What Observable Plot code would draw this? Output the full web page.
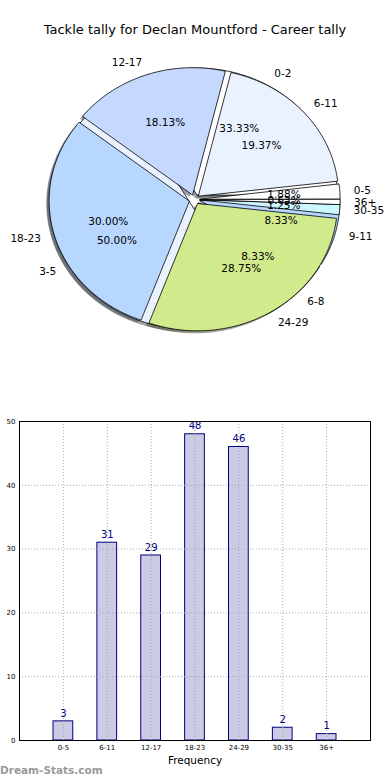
<!DOCTYPE html>
<html><head><meta charset="utf-8">
<script src="https://cdn.jsdelivr.net/npm/d3@7"></script>
<script src="https://cdn.jsdelivr.net/npm/@observablehq/plot@0.6"></script>
<style>
html,body{margin:0;padding:0;background:#fff;}
body{width:390px;height:780px;position:relative;overflow:hidden;font-family:"DejaVu Sans",sans-serif;}
#title{position:absolute;left:0;top:23px;width:390px;text-align:center;font-size:13px;line-height:13px;color:#000;}
#pie{position:absolute;left:0;top:0;}
#bar{position:absolute;left:0;top:400px;}
#wm{position:absolute;left:0;top:765px;font-size:10.5px;line-height:10.5px;font-weight:bold;color:#9a9a9a;}
svg{overflow:visible;}
</style></head><body>
<div id="pie"></div>
<div id="title">Tackle tally for Declan Mountford - Career tally</div>
<div id="bar"></div>
<div id="wm">Dream-Stats.com</div>
<script>
// ---- data ----
const categories = ["0-5","6-11","12-17","18-23","24-29","30-35","36+"];
const tallies = [3,31,29,48,46,2,1];
const percentLabels = ["1.88%","19.37%","18.13%","30.00%","28.75%","1.25%","0.63%"];
const innerCategories = ["0-2","3-5","6-8","9-11"];
const innerTallies = [4,6,1,1];
const innerPercentLabels = ["33.33%","50.00%","8.33%","8.33%"];
const yTicks = [0,10,20,30,40,50];

// ---- styles ----
const wedgeColors = ["#ffffff","#eaf2ff","#c5d9ff","#b7d7ff","#d1ea8b","#cdf7ff","#ffffff"];
const explode = 0.04;
const font = "DejaVu Sans";

function buildWedges(cats, vals, pcts) {
  const total = d3.sum(vals);
  let acc = 0;
  return vals.map((v, i) => {
    const t1 = acc / total * 2 * Math.PI; acc += v;
    const t2 = acc / total * 2 * Math.PI;
    const tm = (t1 + t2) / 2;
    const cx = explode * Math.cos(tm), cy = explode * Math.sin(tm);
    const n = Math.max(2, Math.ceil((t2 - t1) / (Math.PI / 180)));
    const pts = [{x: cx, y: cy}];
    for (let k = 0; k <= n; k++) {
      const t = t1 + (t2 - t1) * k / n;
      pts.push({x: cx + Math.cos(t), y: cy + Math.sin(t)});
    }
    return {
      cat: cats[i], pct: pcts[i], color: wedgeColors[i % wedgeColors.length], pts,
      lx: cx + 1.1 * Math.cos(tm), ly: cy + 1.1 * Math.sin(tm),
      px: cx + 0.6 * Math.cos(tm), py: cy + 0.6 * Math.sin(tm),
      right: Math.cos(tm) > 0
    };
  });
}
const inner = buildWedges(innerCategories, innerTallies, innerPercentLabels);
const outer = buildWedges(categories, tallies, percentLabels);

function shadowColor(c) {
  const r = d3.rgb(c);
  return d3.rgb(r.r * 0.3, r.g * 0.3, r.b * 0.3).formatHex();
}

const pieMarks = [];
for (const w of [...inner, ...outer]) {
  pieMarks.push(Plot.line(w.pts, {x: d => d.x - 0.02, y: d => d.y - 0.02, curve: "linear-closed",
    fill: shadowColor(w.color), fillOpacity: 0.5, stroke: "none"}));
}
for (const w of [...inner, ...outer]) {
  pieMarks.push(Plot.line(w.pts, {x: "x", y: "y", curve: "linear-closed",
    fill: w.color, stroke: "#000", strokeWidth: 0.8}));
}
const allW = [...inner, ...outer];
pieMarks.push(Plot.text(allW.filter(w => w.right), {x: "lx", y: "ly", text: "cat", textAnchor: "start", fontSize: 10.5, fill: "#000"}));
pieMarks.push(Plot.text(allW.filter(w => !w.right), {x: "lx", y: "ly", text: "cat", textAnchor: "end", fontSize: 10.5, fill: "#000"}));
pieMarks.push(Plot.text(allW, {x: "px", y: "py", text: "pct", textAnchor: "middle", fontSize: 10.5, fill: "#000"}));

const rx = 140, ry = 127, pcx = 194, pcy = 199, pw = 390, ph = 400;
const pie = Plot.plot({
  width: pw, height: ph, margin: 0,
  style: {fontFamily: font, background: "transparent", overflow: "visible"},
  x: {domain: [-pcx / rx, (pw - pcx) / rx], axis: null},
  y: {domain: [-(ph - pcy) / ry, pcy / ry], axis: null},
  marks: pieMarks
});
document.getElementById("pie").append(pie);

// ---- bar chart ----
const barData = categories.map((c, i) => ({pos: i + 1, cat: c, v: tallies[i]}));
const halfW = 0.225;
const bar = Plot.plot({
  width: 390, height: 380, marginLeft: 19, marginRight: 20, marginTop: 21, marginBottom: 40,
  style: {fontFamily: font, background: "transparent", overflow: "visible"},
  x: {domain: [0, categories.length + 1]},
  y: {domain: [0, 50]},
  marks: [
    Plot.rectY(barData, {x1: d => d.pos - halfW, x2: d => d.pos + halfW, y1: 0, y2: "v",
      fill: "#cbcbe5", stroke: "#000080", strokeWidth: 1}),
    Plot.gridX(barData.map(d => d.pos), {stroke: "#a8a8a8", strokeOpacity: 1, strokeDasharray: "1,2"}),
    Plot.gridY(yTicks.slice(1, -1), {stroke: "#a8a8a8", strokeOpacity: 1, strokeDasharray: "1,2"}),
    Plot.text(barData, {x: "pos", y: "v", text: d => String(d.v), dy: -8, fontSize: 10, fill: "#000080"}),
    Plot.axisX(barData.map(d => d.pos), {tickFormat: d => categories[d - 1], tickSize: 0, tickPadding: 5, fontSize: 7, label: null}),
    Plot.axisY(yTicks, {tickSize: 0, tickPadding: 4, fontSize: 7, label: null}),
    Plot.text(["Frequency"], {frameAnchor: "bottom", lineAnchor: "middle", dy: 20, fontSize: 10.5, fill: "#000"}),
    Plot.frame({stroke: "#000", strokeWidth: 1})
  ]
});
document.getElementById("bar").append(bar);
</script>
</body></html>
